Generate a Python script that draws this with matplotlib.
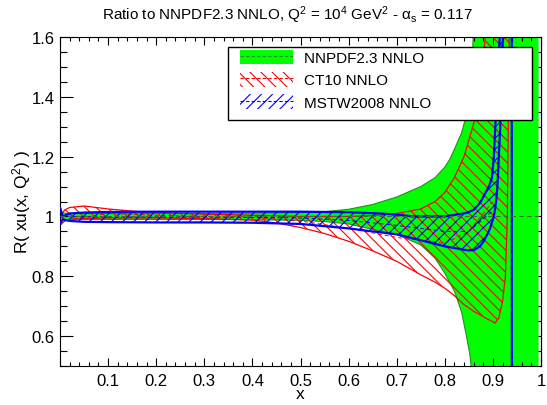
import matplotlib
matplotlib.use('Agg')
import matplotlib.pyplot as plt
from matplotlib.patches import Patch, Rectangle
from matplotlib.lines import Line2D
from matplotlib.ticker import MultipleLocator, FuncFormatter

plt.rcParams['font.family'] = ['Liberation Sans', 'DejaVu Sans']
plt.rcParams['mathtext.fontset'] = 'custom'
plt.rcParams['mathtext.rm'] = 'Liberation Sans'
plt.rcParams['mathtext.it'] = 'Liberation Sans'
plt.rcParams['mathtext.sf'] = 'Liberation Sans'
plt.rcParams['hatch.linewidth'] = 0.8

# NNPDF2.3 NNLO band (reference set, ratio = 1)
x_nn = [0.0, 0.02, 0.05, 0.1, 0.2, 0.3, 0.4, 0.5, 0.55, 0.6, 0.65, 0.7, 0.75, 0.78,
        0.8, 0.81, 0.82, 0.835, 0.845, 0.852, 0.858, 0.862, 0.87, 0.9, 0.95, 0.995]
nn_up = [1.012, 1.01, 1.01, 1.01, 1.01, 1.01, 1.011, 1.013, 1.016, 1.024, 1.04, 1.065, 1.1, 1.13,
         1.165, 1.19, 1.225, 1.28, 1.34, 1.42, 1.55, 1.8, 2.5, 3.0, 3.0, 3.0]
nn_lo = [0.988, 0.99, 0.99, 0.99, 0.99, 0.99, 0.989, 0.987, 0.983, 0.975, 0.957, 0.94, 0.905, 0.86,
         0.81, 0.78, 0.75, 0.68, 0.6, 0.54, 0.45, 0.3, 0.1, -0.5, -1.0, -1.0]

# CT10 NNLO band
x_ct = [0.0, 0.01, 0.02, 0.05, 0.1, 0.15, 0.2, 0.3, 0.4, 0.45, 0.5, 0.55, 0.6, 0.65, 0.7,
        0.75, 0.78, 0.8, 0.82, 0.84, 0.86, 0.87, 0.88, 0.885, 0.9, 0.904, 0.912, 0.92,
        0.926, 0.93, 0.934, 0.936]
ct_up = [1.0, 1.022, 1.03, 1.035, 1.025, 1.018, 1.013, 1.008, 1.004, 1.002, 1.0, 1.0, 1.0, 1.003, 1.01,
         1.025, 1.05, 1.08, 1.13, 1.2, 1.31, 1.38, 1.52, 1.62, 2.0, 2.1, 2.3, 2.5,
         2.6, 2.8, 2.9, 3.0]
ct_lo = [0.97, 0.985, 0.99, 0.993, 0.995, 0.995, 0.995, 0.993, 0.988, 0.978, 0.963, 0.943, 0.917, 0.885, 0.85,
         0.805, 0.78, 0.76, 0.735, 0.705, 0.683, 0.674, 0.665, 0.66, 0.648, 0.643, 0.66, 0.715,
         0.8, 1.0, 1.6, 2.5]

# MSTW2008 NNLO band
x_ms = [0.0, 0.006, 0.02, 0.05, 0.1, 0.2, 0.3, 0.4, 0.5, 0.6, 0.665, 0.7, 0.734, 0.8,
        0.846, 0.86, 0.873, 0.88, 0.89, 0.894, 0.898, 0.902, 0.905, 0.908, 0.91, 0.915,
        0.919, 0.921, 0.925, 0.939, 0.94]
ms_up = [1.03, 1.0, 1.01, 1.013, 1.015, 1.016, 1.016, 1.016, 1.016, 1.014, 1.01, 1.006, 1.0, 1.0,
         1.012, 1.022, 1.045, 1.065, 1.095, 1.11, 1.13, 1.2, 1.3, 1.4, 1.48, 1.62,
         1.75, 1.85, 2.0, 4.0, 5.0]
ms_lo = [0.975, 0.99, 0.985, 0.982, 0.981, 0.98, 0.98, 0.979, 0.975, 0.96, 0.947, 0.94, 0.927, 0.9,
         0.887, 0.887, 0.9, 0.915, 0.945, 0.96, 0.98, 1.0, 1.03, 1.07, 1.12, 1.29,
         1.52, 1.6, 1.8, 2.5, -3.0]

# central values
x_c = [0.0, 0.1, 0.2, 0.3, 0.4, 0.5, 0.6, 0.7, 0.8, 0.85, 0.9]
ct_mid = [0.985, 1.01, 1.004, 1.0, 0.997, 0.985, 0.96, 0.93, 0.91, 0.95, 1.05]
ms_mid = [1.0, 0.998, 0.998, 0.998, 0.997, 0.995, 0.987, 0.97, 0.95, 0.95, 1.02]

labels = ['NNPDF2.3 NNLO', 'CT10 NNLO', 'MSTW2008 NNLO']

fig = plt.figure(figsize=(5.47, 4.06), dpi=100)
ax = fig.add_axes([60 / 547, 1 - 367 / 406, 481 / 547, 329 / 406])

green = '#00ff00'
dkgreen = '#2a8a2a'
red_hatch = '\\\\\\'
blue_hatch = '///'

ax.fill_between(x_nn, nn_lo, nn_up, facecolor=green, edgecolor='none', zorder=1)
ax.plot(x_nn, nn_up, color=dkgreen, lw=0.8, zorder=1.2)
ax.plot(x_nn, nn_lo, color=dkgreen, lw=0.8, zorder=1.2)
ax.plot([0, 1], [1, 1], color='#3d6b3d', lw=0.8, ls=(0, (4, 3)), zorder=4)

ax.fill_between(x_ct, ct_lo, ct_up, facecolor='none', edgecolor='red',
                hatch=red_hatch, linewidth=0, zorder=2)
ax.plot(x_ct, ct_up, color='red', lw=0.9, zorder=2.5)
ax.plot(x_ct, ct_lo, color='red', lw=0.9, zorder=2.5)
ax.plot(x_c, ct_mid, color='red', lw=0.7, ls=(0, (4, 3)), zorder=2.5)

ax.fill_between(x_ms, ms_lo, ms_up, facecolor='none', edgecolor='blue',
                hatch=blue_hatch, linewidth=0, zorder=3)
ax.plot(x_ms, ms_up, color='blue', lw=1.6, zorder=3.5)
ax.plot(x_ms, ms_lo, color='blue', lw=1.6, zorder=3.5)
ax.plot(x_c, ms_mid, color='blue', lw=0.7, ls=(0, (4, 3)), zorder=3.5)

ax.set_xlim(0, 1)
ax.set_ylim(0.5, 1.6)

ax.xaxis.set_major_locator(MultipleLocator(0.1))
ax.xaxis.set_minor_locator(MultipleLocator(0.02))
ax.yaxis.set_major_locator(MultipleLocator(0.2))
ax.yaxis.set_minor_locator(MultipleLocator(0.05))
ax.xaxis.set_major_formatter(FuncFormatter(lambda v, p: '' if abs(v) < 1e-9 else '%g' % round(v, 3)))
ax.yaxis.set_major_formatter(FuncFormatter(lambda v, p: '%g' % round(v, 3)))
ax.tick_params(axis='x', which='major', direction='in', length=6, width=0.8,
               top=True, labelsize=12, pad=5)
ax.tick_params(axis='x', which='minor', direction='in', length=3, width=0.8, top=True)
ax.tick_params(axis='y', which='major', direction='in', length=9.5, width=0.8,
               right=False, labelsize=12, pad=4)
ax.tick_params(axis='y', which='minor', direction='in', length=4.8, width=0.8, right=False)

sec = ax.secondary_yaxis('right')
sec.yaxis.set_major_locator(MultipleLocator(0.2))
sec.yaxis.set_minor_locator(MultipleLocator(0.05))
sec.tick_params(which='both', direction='in', length=2.8, width=0.8, labelright=False)
sec.spines['right'].set_linewidth(0.8)

for s in ax.spines.values():
    s.set_linewidth(0.8)

ax.set_xlabel('x', fontsize=12.5)
ax.xaxis.set_label_coords(0.5, -0.062)
ax.set_ylabel('R( xu(x, Q$^{2}$) )', fontsize=12.5)
ax.yaxis.set_label_coords(-0.056, 0.5)

fig.text(0.525, 0.963, r'Ratio to NNPDF2.3 NNLO, Q$^{2}$ = 10$^{4}$ GeV$^{2}$ - $\alpha_{s}$ = 0.117',
         ha='center', va='center', fontsize=11)

# legend box
ax.add_patch(Rectangle((0.349, 0.748), 0.632, 0.222, transform=ax.transAxes,
                       facecolor='white', edgecolor='black', lw=1.0, zorder=5))
handles = [
    (Patch(facecolor=green, edgecolor='none'),
     Line2D([], [], color=dkgreen, lw=0.8, ls=(0, (3, 2)))),
    (Patch(facecolor='none', edgecolor='red', hatch=red_hatch, lw=0),
     Line2D([], [], color='red', lw=0.8, ls=(0, (3, 2)))),
    (Patch(facecolor='none', edgecolor='blue', hatch=blue_hatch, lw=0),
     Line2D([], [], color='blue', lw=0.8, ls=(0, (3, 2)))),
]
leg = ax.legend(handles, labels, loc='upper left', bbox_to_anchor=(0.374, 0.962),
                frameon=False, fontsize=11, handlelength=3.5, handleheight=1.1,
                labelspacing=0.45, handletextpad=0.7, borderpad=0, borderaxespad=0)
leg.set_zorder(6)

fig.savefig('out.png', dpi=100)
